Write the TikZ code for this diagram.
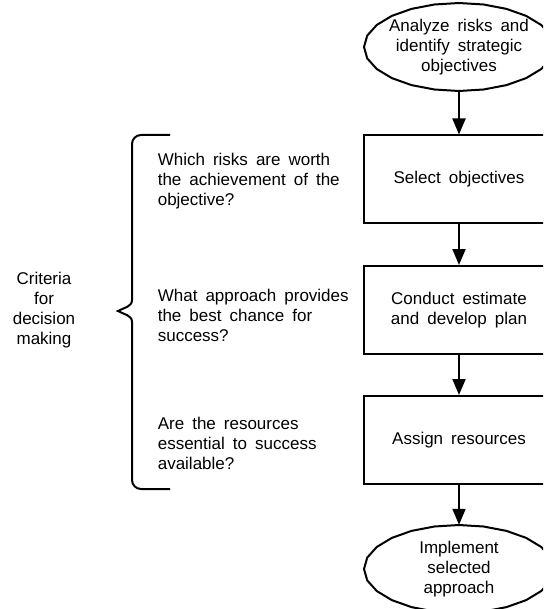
\documentclass[tikz,border=0pt]{standalone}
\usepackage{fontspec}
\setmainfont{Liberation Sans}
\usetikzlibrary{arrows.meta,shapes.geometric}
\newcommand{\labelfont}{\fontsize{17}{20}\selectfont\spaceskip=1.7\fontdimen2\font plus 1pt\relax}
\begin{document}
\begin{tikzpicture}[x=1pt,y=-1pt,
  every node/.style={font=\labelfont},
  line/.style={line width=2pt,draw=black},
  flow/.style={line, -{Triangle[length=16pt,width=13pt]}},
  stepbox/.style={rectangle,line,minimum width=190pt,minimum height=88pt,inner sep=0pt,align=center},
  terminal/.style={ellipse,minimum width=190pt,minimum height=88pt,inner sep=0pt,align=center},
  question/.style={anchor=west,align=left,inner sep=0pt},
]
\useasboundingbox (0,0) rectangle (543,609);
\clip (0,0) rectangle (543,609);

% flow chart column
\node[terminal] (start) at (459,47) {Analyze risks and\\identify strategic\\objectives};
\node[stepbox] (select) at (459,179.5) {Select objectives};
\node[stepbox] (plan) at (459,310) {Conduct estimate\\and develop plan};
\node[stepbox] (assign) at (459,440) {Assign resources};
\node[terminal] (impl) at (459,569) {Implement\\selected\\approach};

% faceted outlines of the two terminals
\draw[line] plot[samples=25,domain=0:360] ({459+95*cos(\x)},{47+44*sin(\x)}) -- cycle;
\draw[line] plot[samples=25,domain=0:360] ({459+95*cos(\x)},{569+44*sin(\x)}) -- cycle;

\draw[flow] (start.south) -- (select.north);
\draw[flow] (select.south) -- (plan.north);
\draw[flow] (plan.south) -- (assign.north);
\draw[flow] (assign.south) -- (impl.north);

% decision criteria
\node[question] (q1) at (157.6,181) {Which risks are worth\\the achievement of the\\objective?};
\node[question] (q2) at (157.6,315) {What approach provides\\the best chance for\\success?};
\node[question] (q3) at (157.6,443) {Are the resources\\essential to success\\available?};

\draw[line] (170,135) -- (141,135) to[out=180,in=90] (132,144) -- (132,300)
  to[out=-90,in=30] (118,311) to[out=-30,in=90] (132,322) -- (132,480)
  to[out=-90,in=180] (141,489) -- (170,489);

\node[align=center,inner sep=0pt] (crit) at (44,310) {Criteria\\for\\decision\\making};
\end{tikzpicture}
\end{document}
